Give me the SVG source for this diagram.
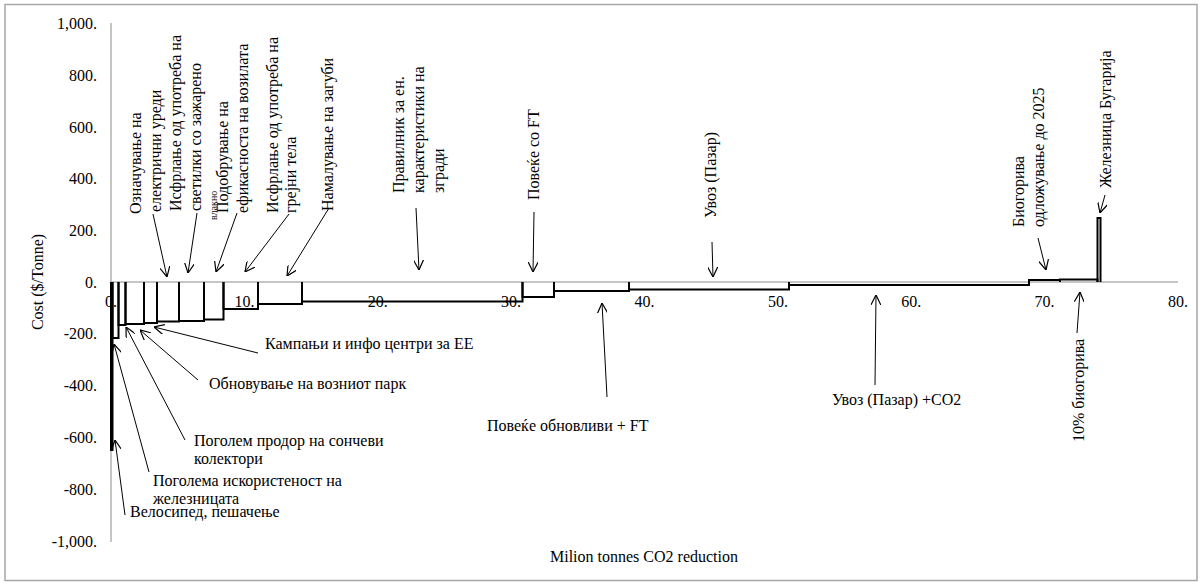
<svg xmlns="http://www.w3.org/2000/svg" width="1203" height="583" viewBox="0 0 1203 583">
<style>
text{font-family:'Liberation Serif','DejaVu Serif','Noto Serif','Times New Roman',Times,serif;font-size:16px;fill:#000}
.tk{font-size:16px}
.sm{font-size:10px}
.ax{stroke:#8c8c8c;stroke-width:1;fill:none}
.bar{stroke:#000;stroke-width:2;fill:none}
.ar{stroke:#000;stroke-width:1;fill:none;marker-end:url(#arr)}
</style>
<defs>
<marker id="arr" viewBox="0 0 10 10" refX="10" refY="5" markerWidth="10" markerHeight="10" markerUnits="userSpaceOnUse" orient="auto"><path d="M0,0 L10,5 L0,10" fill="none" stroke="#000" stroke-width="1.2"/></marker>
</defs>
<rect x="5" y="4.5" width="1192" height="576" fill="#fff" stroke="#a6a6a6" stroke-width="1.5"/>
<g id="axes">
<line class="ax" x1="111" y1="23" x2="111" y2="542"/>
<line class="ax" x1="111" y1="282" x2="1178" y2="282"/>
<g text-anchor="end" class="tk">
<text x="97" y="28.5">1,000.</text>
<text x="97" y="80.5">800.</text>
<text x="97" y="132.5">600.</text>
<text x="97" y="184">400.</text>
<text x="97" y="236">200.</text>
<text x="97" y="287.5">0.</text>
<text x="97" y="339">-200.</text>
<text x="97" y="391">-400.</text>
<text x="97" y="443">-600.</text>
<text x="97" y="494.5">-800.</text>
<text x="97" y="546.5">-1,000.</text>
</g>
<g text-anchor="middle" class="tk">
<text x="111" y="307">0.</text>
<text x="244.4" y="307">10.</text>
<text x="377.8" y="307">20.</text>
<text x="511.1" y="307">30.</text>
<text x="644.5" y="307">40.</text>
<text x="777.9" y="307">50.</text>
<text x="911.3" y="307">60.</text>
<text x="1044.6" y="307">70.</text>
<text x="1178" y="307">80.</text>
</g>
<text text-anchor="middle" x="644" y="562">Milion tonnes CO2 reduction</text>
<text text-anchor="middle" transform="translate(42.5,282) rotate(-90)">Cost ($/Tonne)</text>
</g>
<g id="bars">
<path class="bar" d="M111,282 V450 H112.5 V282"/>
<path class="bar" d="M112.5,282 V338 H118.5 V282"/>
<path class="bar" d="M118.5,282 V325 H125.5 V282"/>
<path class="bar" d="M125.5,282 V324 H144 V282"/>
<path class="bar" d="M144,282 V323 H157 V282"/>
<path class="bar" d="M157,282 V321.5 H179 V282"/>
<path class="bar" d="M179,282 V321 H204 V282"/>
<path class="bar" d="M204,282 V319.5 H223.5 V282"/>
<path class="bar" d="M223.5,282 V309 H258 V282"/>
<path class="bar" d="M258,282 V304 H302 V282"/>
<path class="bar" d="M302,282 V301.5 H522.5 V282"/>
<path class="bar" d="M522.5,282 V297 H554 V282"/>
<path class="bar" d="M554,282 V291 H629 V282"/>
<path class="bar" d="M629,282 V289.5 H789 V282"/>
<path class="bar" d="M789,282 V285 H1029 V282"/>
<path class="bar" d="M1029,282 V280 H1060 V282" fill="#d9d9d9"/>
<path class="bar" d="M1060,282 V279.5 H1097.5 V282"/>
<path class="bar" d="M1097.5,282 V218 H1100.5 V282"/>
</g>
<g id="connectors">
<line class="ar" x1="153" y1="214" x2="167" y2="277"/>
<line class="ar" x1="197" y1="213" x2="188" y2="273"/>
<line class="ar" x1="237" y1="213" x2="216" y2="272"/>
<line class="ar" x1="289" y1="214" x2="245" y2="272"/>
<line class="ar" x1="329" y1="208" x2="287" y2="276"/>
<line class="ar" x1="416" y1="208" x2="419" y2="270"/>
<line class="ar" x1="534" y1="212" x2="533" y2="272"/>
<line class="ar" x1="712" y1="242" x2="713" y2="277"/>
<line class="ar" x1="1038" y1="238" x2="1046" y2="270"/>
<line class="ar" x1="1105" y1="195" x2="1100" y2="213"/>
<line class="ar" x1="258" y1="353" x2="154" y2="327"/>
<line class="ar" x1="198" y1="380" x2="140" y2="330"/>
<line class="ar" x1="185" y1="440" x2="126" y2="327"/>
<line class="ar" x1="149" y1="472" x2="114" y2="344"/>
<line class="ar" x1="125" y1="515" x2="115" y2="440"/>
<line class="ar" x1="607" y1="397" x2="602" y2="303"/>
<line class="ar" x1="875" y1="385" x2="876" y2="295"/>
<line class="ar" x1="1077" y1="333" x2="1080" y2="292"/>
</g>
<g id="label-oznacuvanje">
<text transform="translate(140.5,214) rotate(-90)">Означување на</text>
<text transform="translate(160.5,212) rotate(-90)">електрични уреди</text>
</g>
<g id="label-svetilki">
<text transform="translate(180.5,211) rotate(-90)">Исфрлање од употреба на</text>
<text transform="translate(200.5,211) rotate(-90)">светилки со зажарено</text>
<text class="sm" transform="translate(216.5,220) rotate(-90)">влакно</text>
</g>
<g id="label-vozila">
<text transform="translate(227.5,213) rotate(-90)">Подобрување на</text>
<text transform="translate(247.5,213) rotate(-90)">ефикасноста на возилата</text>
</g>
<g id="label-grejni">
<text transform="translate(277.5,213) rotate(-90)">Исфрлање од употреба на</text>
<text transform="translate(295.5,213) rotate(-90)">грејни тела</text>
</g>
<g id="label-zagubi">
<text transform="translate(332.5,211) rotate(-90)">Намалување на загуби</text>
</g>
<g id="label-pravilnik">
<text transform="translate(403.5,193) rotate(-90)">Правилник за ен.</text>
<text transform="translate(423.5,193) rotate(-90)">карактеристики на</text>
<text transform="translate(443.5,193) rotate(-90)">згради</text>
</g>
<g id="label-ft">
<text transform="translate(538.5,200) rotate(-90)">Повеќе со FT</text>
</g>
<g id="label-uvoz">
<text transform="translate(715.5,218) rotate(-90)">Увоз (Пазар)</text>
</g>
<g id="label-biogoriva2025">
<text transform="translate(1023.5,227) rotate(-90)">Биогорива</text>
<text transform="translate(1043.5,227) rotate(-90)">одложување до 2025</text>
</g>
<g id="label-bugarija">
<text transform="translate(1110.5,188) rotate(-90)">Железница Бугарија</text>
</g>
<g id="label-10biogoriva">
<text transform="translate(1083.5,442) rotate(-90)">10% биогорива</text>
</g>
<g id="label-kampanji"><text x="265" y="348.5">Кампањи и инфо центри за ЕЕ</text></g>
<g id="label-voznipark"><text x="209" y="388.5">Обновување на возниот парк</text></g>
<g id="label-soncevi">
<text x="194" y="445.5">Поголем продор на сончеви</text>
<text x="194" y="463.5">колектори</text>
</g>
<g id="label-zeleznica">
<text x="153" y="485.5">Поголема искористеност на</text>
<text x="153" y="503.5">железницата</text>
</g>
<g id="label-velosiped"><text x="130" y="516.5">Велосипед, пешачење</text></g>
<g id="label-obnovlivi"><text x="487" y="430.5">Повеќе обновливи + FT</text></g>
<g id="label-uvozco2"><text x="832" y="404.5">Увоз (Пазар) +CO2</text></g>
</svg>
